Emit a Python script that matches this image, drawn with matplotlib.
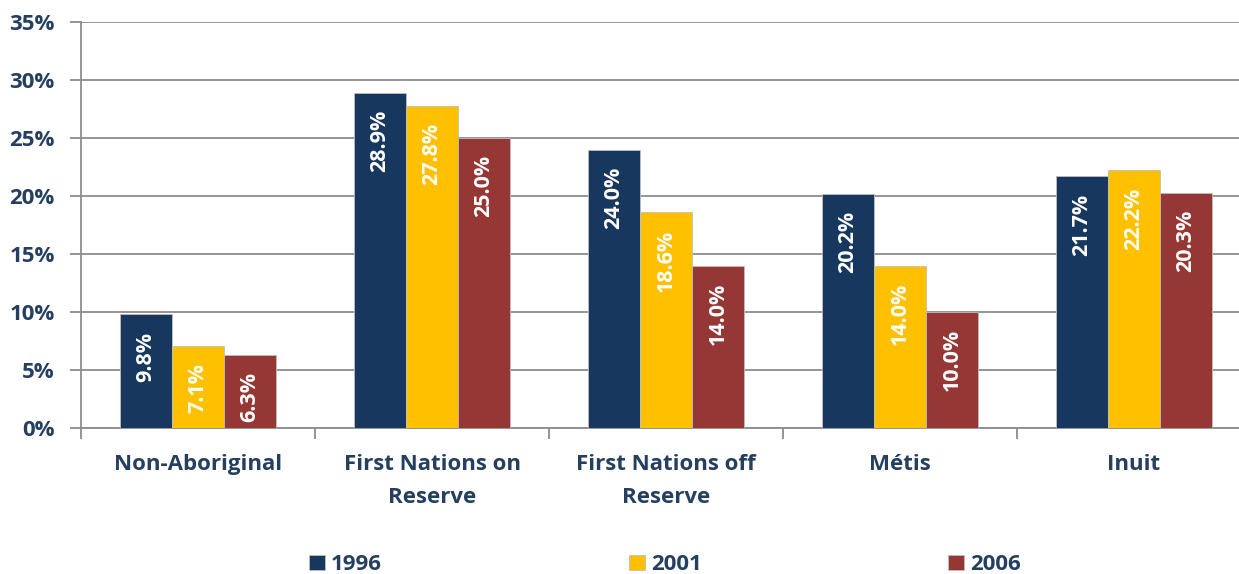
import matplotlib
matplotlib.use("Agg")
import matplotlib.pyplot as plt
import numpy as np

categories = ["Non-Aboriginal", "First Nations on\nReserve", "First Nations off\nReserve", "Métis", "Inuit"]
series_names = ["1996", "2001", "2006"]
v1996 = [9.8, 28.9, 24.0, 20.2, 21.7]
v2001 = [7.1, 27.8, 18.6, 14.0, 22.2]
v2006 = [6.3, 25.0, 14.0, 10.0, 20.3]
yticks = [0, 5, 10, 15, 20, 25, 30, 35]
ytick_labels = ["0%", "5%", "10%", "15%", "20%", "25%", "30%", "35%"]

colors = ["#17375E", "#FFC000", "#953735"]
text_color = "#243F60"
grid_color = "#8C8C8C"

plt.rcParams['font.family'] = ['Open Sans', 'DejaVu Sans']
plt.rcParams['font.weight'] = 'bold'

fig = plt.figure(figsize=(12.39, 5.74), dpi=100)
W, H = 1239, 574
left, right, top, bottom = 81, 1251, 22, 428
ax = fig.add_axes([left / W, 1 - bottom / H, (right - left) / W, (bottom - top) / H])

x = np.arange(len(categories))
bw = 0.222
data = [v1996, v2001, v2006]
for i, (vals, c, name) in enumerate(zip(data, colors, series_names)):
    pos = x + (i - 1) * bw
    ax.bar(pos, vals, width=bw, color=c, edgecolor="#BFBFBF", linewidth=0.6,
           label=name, zorder=3)
    for xi, v in zip(pos, vals):
        ax.annotate(f"{v:.1f}%", (xi, v), xytext=(0, -12.5), textcoords="offset points",
                    rotation=90, ha="center", va="top", color="white",
                    fontsize=15.5, fontweight="bold", zorder=4)

ax.set_xlim(-0.5, len(categories) - 0.5)
ax.set_ylim(0, 35)
ax.set_yticks(yticks)
ax.set_yticklabels(ytick_labels, fontsize=16, fontweight="bold", color=text_color)
ax.yaxis.grid(True, color=grid_color, linewidth=1.3, zorder=0)
ax.set_axisbelow(True)

ax.set_xticks(np.arange(len(categories) + 1) - 0.5)
ax.set_xticklabels([])
ax.set_xticks(x, minor=True)
ax.set_xticklabels(categories, minor=True, fontsize=16, fontweight="bold", color=text_color,
                   linespacing=1.75)
ax.tick_params(axis="x", which="minor", length=0, pad=19)
ax.tick_params(axis="x", which="major", length=8, width=1.3, color=grid_color, direction="out")
ax.tick_params(axis="y", length=8, width=1.3, color=grid_color, direction="out", pad=11)

for s in ["top", "right"]:
    ax.spines[s].set_visible(False)
for s in ["left", "bottom"]:
    ax.spines[s].set_color(grid_color)
    ax.spines[s].set_linewidth(1.3)

handles, labels = ax.get_legend_handles_labels()
leg = fig.legend(handles, labels, loc="center", bbox_to_anchor=(665 / W, 1 - 565 / H), ncol=3,
                 frameon=False, fontsize=16, handlelength=0.72, handleheight=0.68,
                 handletextpad=0.27, columnspacing=11.1)
for t in leg.get_texts():
    t.set_color(text_color)
    t.set_fontweight("bold")

fig.savefig("out.png", dpi=100)
